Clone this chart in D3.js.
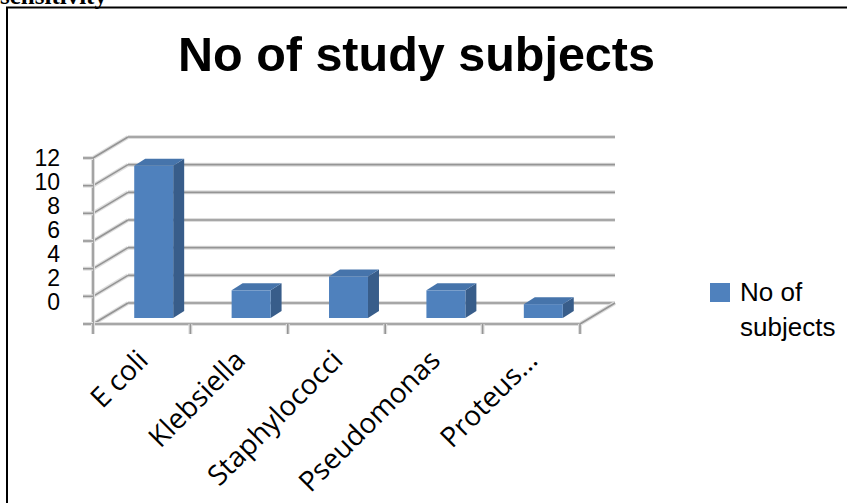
<!DOCTYPE html>
<html>
<head>
<meta charset="utf-8">
<script src="https://cdn.jsdelivr.net/npm/d3@7/dist/d3.min.js"></script>
<style>
  html, body { margin: 0; padding: 0; background: #fff; }
  svg { display: block; }
</style>
</head>
<body>
<svg id="chart" width="847" height="503"></svg>
<script>
// Organisms isolated and number of study subjects for each
const categories = ["E coli", "Klebsiella", "Staphylococci", "Pseudomonas", "Proteus..."];
const subjects = [11, 2, 3, 2, 1];
const yTickValues = [0, 2, 4, 6, 8, 10, 12];
const yTickLabels = ["0", "2", "4", "6", "8", "10", "12"];
const seriesName = ["No of", "subjects"];
const chartTitle = "No of study subjects";
const captionAbove = "sensitivity";

const svg = d3.select("#chart");

// caption line of the surrounding document and the chart frame
svg.append("text")
  .attr("x", 0).attr("y", 3.5)
  .attr("font-family", "Liberation Serif, serif")
  .attr("font-weight", "bold")
  .attr("font-size", 25)
  .attr("fill", "#000")
  .text(captionAbove);
svg.append("rect")
  .attr("x", 7).attr("y", 7.5)
  .attr("width", 900).attr("height", 600)
  .attr("fill", "none").attr("stroke", "#000").attr("stroke-width", 2);

// title
svg.append("text")
  .attr("x", 416.5).attr("y", 71)
  .attr("text-anchor", "middle")
  .attr("font-family", "Liberation Sans, Arial, sans-serif")
  .attr("font-weight", "bold")
  .attr("font-size", 48.5)
  .attr("fill", "#000")
  .text(chartTitle);

// 3-D plot geometry: front face of the floor and the depth offset to the back wall
const depth = { dx: 35, dy: -21 };
const x = d3.scaleBand().domain(categories).range([93, 580]).paddingInner(0).paddingOuter(0);
const y = d3.scaleLinear().domain([0, 12]).range([324, 158]);
// value labels sit on a slightly tighter scale than the gridlines
const yLabel = d3.scaleLinear().domain([0, 12]).range([302, 158]);

const grid = svg.append("g");
function gridLine(points) {
  const line = d3.line();
  grid.append("path").attr("d", line(points))
    .attr("fill", "none").attr("stroke", "#dedede").attr("stroke-width", 4);
  grid.append("path").attr("d", line(points))
    .attr("fill", "none").attr("stroke", "#959595").attr("stroke-width", 1.6);
}

const x0 = x.range()[0], x1 = x.range()[1];
yTickValues.forEach(v => {
  const yf = y(v);
  // left wall
  gridLine([[x0, yf], [x0 + depth.dx, yf + depth.dy]]);
  // back wall
  gridLine([[x0 + depth.dx, yf + depth.dy], [x1 + depth.dx, yf + depth.dy]]);
});
// floor: front edge and right edge
gridLine([[x0, y(0)], [x1, y(0)]]);
gridLine([[x1, y(0)], [x1 + depth.dx, y(0) + depth.dy]]);

// value axis line and ticks
gridLine([[x0, y(12)], [x0, y(0) + 10]]);
yTickValues.forEach(v => {
  gridLine([[x0 - 10, y(v)], [x0, y(v)]]);
});
// category ticks
categories.forEach(c => {
  gridLine([[x(c), y(0)], [x(c), y(0) + 10]]);
});
gridLine([[x1, y(0)], [x1, y(0) + 10]]);

// value labels
svg.append("g").selectAll("text")
  .data(yTickValues)
  .join("text")
  .attr("x", 60)
  .attr("y", v => yLabel(v))
  .attr("dy", "0.36em")
  .attr("text-anchor", "end")
  .attr("font-family", "Liberation Sans, Arial, sans-serif")
  .attr("font-size", 23)
  .attr("fill", "#000")
  .text((v, i) => yTickLabels[i]);

// 3-D bars
const barW = x.bandwidth() * 0.4;
const barOff = { dx: 12, dy: -6 };   // bar set a little into the floor
const barDepth = { dx: 11, dy: -7 };
const colors = { front: "#4F81BD", side: "#385D8A", top: "#4674AB" };

const bars = svg.append("g").selectAll("g")
  .data(categories.map((c, i) => ({ c, v: subjects[i] })))
  .join("g");

bars.each(function(d) {
  const g = d3.select(this);
  const left = x(d.c) + (x.bandwidth() - barW) / 2 + barOff.dx;
  const base = y(0) + barOff.dy;
  const top = y(d.v) + barOff.dy;
  const right = left + barW;
  g.append("path")
    .attr("d", d3.line()([[right, top], [right + barDepth.dx, top + barDepth.dy],
      [right + barDepth.dx, base + barDepth.dy], [right, base]]) + "Z")
    .attr("fill", colors.side);
  g.append("path")
    .attr("d", d3.line()([[left, top], [left + barDepth.dx, top + barDepth.dy],
      [right + barDepth.dx, top + barDepth.dy], [right, top]]) + "Z")
    .attr("fill", colors.top);
  g.append("rect")
    .attr("x", left).attr("y", top)
    .attr("width", barW).attr("height", base - top)
    .attr("fill", colors.front);
});

// category labels, rotated
svg.append("g").selectAll("text")
  .data(categories)
  .join("text")
  .attr("transform", c => `translate(${x(c) + x.bandwidth() / 2 + 8},${y(0) + 38}) rotate(-45)`)
  .attr("text-anchor", "end")
  .attr("font-family", "Open Sans, sans-serif")
  .attr("font-size", 28)
  .attr("fill", "#000")
  .text(c => c);

// legend
const legend = svg.append("g");
legend.append("rect")
  .attr("x", 710).attr("y", 283).attr("width", 20).attr("height", 19)
  .attr("fill", colors.front);
legend.selectAll("text")
  .data(seriesName)
  .join("text")
  .attr("x", 740)
  .attr("y", (t, i) => 301 + i * 35)
  .attr("font-family", "Liberation Sans, Arial, sans-serif")
  .attr("font-size", 26)
  .attr("fill", "#000")
  .text(t => t);
</script>
</body>
</html>
